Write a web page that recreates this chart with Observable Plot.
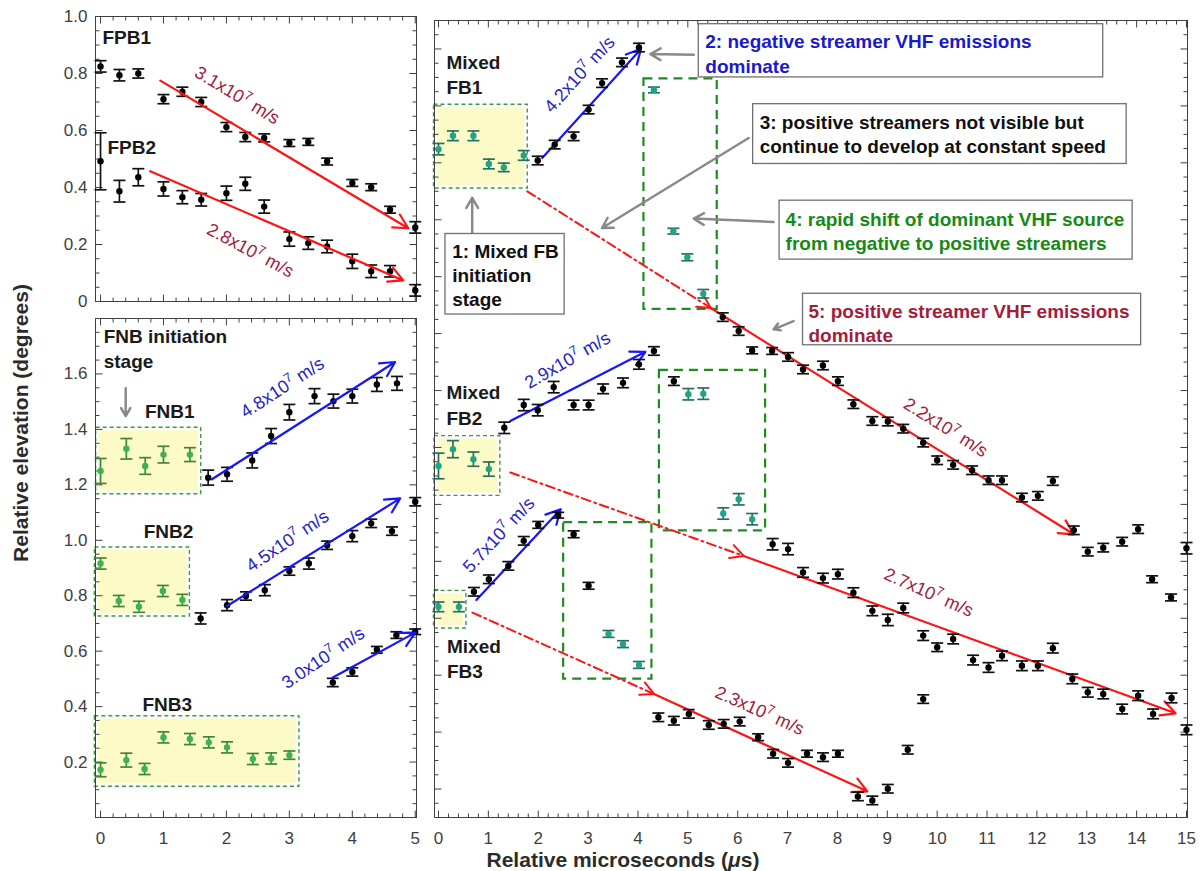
<!DOCTYPE html>
<html><head><meta charset="utf-8">
<script src="https://cdn.jsdelivr.net/npm/d3@7"></script>
<script src="https://cdn.jsdelivr.net/npm/@observablehq/plot@0.6"></script>
<style>
html,body{margin:0;padding:0;background:#fff;}
#wrap{position:relative;width:1202px;height:871px;overflow:hidden;font-family:"Liberation Sans",Arial,Helvetica,sans-serif;color:#333;}
#wrap svg{position:absolute;overflow:visible;}
.lab{position:absolute;font-weight:bold;font-size:21px;line-height:22px;white-space:nowrap;color:#2b2b2b;transform:translate(-50%,-50%);}
</style></head><body>
<div id="wrap"></div>
<script>
// ---------- data: [time (µs), relative elevation (deg), error half-width (deg)] ----------
// upper-left panel: fast positive breakdown
const fpb1 = [[0,0.825,0.02],[0.3,0.794,0.02],[0.6,0.80,0.016],[1.0,0.71,0.016],[1.3,0.736,0.016],[1.6,0.70,0.016],[2.0,0.612,0.016],[2.3,0.577,0.016],[2.6,0.574,0.014],[3.0,0.556,0.012],[3.3,0.56,0.012],[3.6,0.491,0.012],[4.0,0.416,0.012],[4.3,0.401,0.012],[4.6,0.322,0.012],[5.0,0.26,0.02]];
const fpb2 = [[0,0.492,0.1],[0.3,0.387,0.038],[0.6,0.436,0.03],[1.0,0.395,0.025],[1.3,0.366,0.023],[1.6,0.357,0.022],[2.0,0.38,0.025],[2.3,0.413,0.023],[2.6,0.333,0.023],[3.0,0.219,0.025],[3.3,0.205,0.022],[3.6,0.193,0.022],[4.0,0.141,0.025],[4.3,0.106,0.022],[4.6,0.106,0.02],[5.0,0.039,0.02]];
// lower-left panel: fast negative breakdown
const fnb1Init = [[0,1.25,0.045],[0.41,1.33,0.037],[0.71,1.268,0.03],[1.0,1.309,0.03],[1.42,1.309,0.025]];
const fnb1 = [[1.71,1.226,0.027],[2.01,1.238,0.025],[2.41,1.288,0.027],[2.71,1.376,0.027],[3.0,1.462,0.028],[3.4,1.52,0.027],[3.7,1.502,0.025],[4.0,1.52,0.025],[4.39,1.562,0.025],[4.71,1.566,0.025]];
const fnb2Init = [[0,0.916,0.02],[0.29,0.781,0.02],[0.61,0.76,0.02],[0.99,0.817,0.02],[1.3,0.785,0.02]];
const fnb2 = [[1.59,0.718,0.02],[2.01,0.766,0.02],[2.31,0.799,0.015],[2.61,0.82,0.02],[3.0,0.889,0.015],[3.31,0.916,0.02],[3.6,0.982,0.015],[4.0,1.015,0.02],[4.3,1.061,0.015],[4.63,1.033,0.015],[5.0,1.139,0.015]];
const fnb3Init = [[0,0.172,0.025],[0.41,0.207,0.025],[0.70,0.175,0.02],[1.0,0.289,0.02],[1.42,0.283,0.02],[1.72,0.271,0.02],[2.01,0.253,0.02],[2.42,0.211,0.02],[2.71,0.213,0.02],[3.0,0.225,0.015]];
const fnb3 = [[3.69,0.487,0.015],[4.0,0.525,0.015],[4.39,0.605,0.012],[4.7,0.658,0.012],[5.0,0.67,0.01]];
// right panel: mixed fast breakdown (vertical offset per flash)
const fb1Init = [[0,2.248,0.02],[0.29,2.295,0.017],[0.7,2.295,0.017],[1.01,2.196,0.017],[1.31,2.184,0.015],[1.71,2.226,0.017]];
const fb1Black = [[1.99,2.208,0.015],[2.33,2.264,0.015],[2.71,2.293,0.015],[3.01,2.387,0.015],[3.28,2.48,0.015],[3.68,2.553,0.015],[4.02,2.605,0.015],
  [5.7,1.658,0.015],[6.02,1.609,0.015],[6.29,1.541,0.012],[6.69,1.539,0.012],[7.01,1.518,0.015],[7.31,1.474,0.015],[7.71,1.488,0.015],[8.01,1.433,0.015],[8.32,1.352,0.015],[8.70,1.293,0.015],[9.01,1.291,0.015],[9.32,1.266,0.015],[9.72,1.217,0.015],[10.0,1.155,0.015],[10.32,1.139,0.015],[10.7,1.12,0.015],[11.03,1.085,0.015],[11.3,1.085,0.015],[11.7,1.024,0.015],[12.02,1.03,0.015],[12.32,1.082,0.015],[12.74,0.909,0.015],[13.02,0.834,0.015],[13.33,0.848,0.015],[13.71,0.869,0.015],[14.03,0.913,0.015],[14.31,0.737,0.012],[14.69,0.673,0.012],[15.0,0.846,0.02]];
const fb1Shift = [[4.32,2.456,0.01],[4.71,1.96,0.01],[4.99,1.868,0.012],[5.31,1.74,0.015]];
const fb2Init = [[0,1.135,0.045],[0.29,1.194,0.03],[0.70,1.159,0.025],[1.01,1.124,0.025]];
const fb2Black = [[1.32,1.269,0.02],[1.71,1.349,0.02],[1.99,1.331,0.02],[2.31,1.412,0.02],[2.71,1.349,0.017],[3.01,1.349,0.017],[3.30,1.406,0.017],[3.70,1.427,0.017],[4.02,1.492,0.017],[4.32,1.539,0.015],[4.72,1.433,0.015],
  [6.70,0.86,0.02],[7.01,0.843,0.02],[7.31,0.761,0.017],[7.71,0.741,0.017],[8.01,0.755,0.017],[8.32,0.69,0.017],[8.70,0.626,0.017],[9.01,0.594,0.02],[9.32,0.636,0.017],[9.72,0.539,0.017],[10.0,0.498,0.015],[10.32,0.527,0.017],[10.72,0.453,0.017],[11.03,0.427,0.017],[11.3,0.468,0.017],[11.7,0.433,0.017],[12.02,0.433,0.017],[12.32,0.495,0.017],[12.71,0.387,0.017],[13.02,0.34,0.017],[13.33,0.334,0.017],[13.71,0.281,0.017],[14.03,0.328,0.017],[14.33,0.264,0.017],[14.70,0.32,0.017],[15.0,0.208,0.017]];
const fb2Shift = [[5.01,1.387,0.02],[5.31,1.389,0.02],[5.71,0.968,0.02],[6.02,1.018,0.02],[6.29,0.948,0.02]];
const fb3Init = [[0,0.64,0.017],[0.41,0.64,0.017]];
const fb3Black = [[0.71,0.693,0.015],[1.01,0.737,0.015],[1.40,0.784,0.015],[1.71,0.872,0.015],[2.0,0.928,0.012],[2.40,0.962,0.01],[2.71,0.895,0.012],[3.01,0.714,0.012],
  [4.41,0.252,0.015],[4.72,0.24,0.015],[5.02,0.264,0.015],[5.42,0.225,0.015],[5.72,0.229,0.015],[6.04,0.237,0.015],[6.41,0.182,0.012],[6.71,0.124,0.015],[7.01,0.092,0.015],[7.39,0.124,0.012],[7.71,0.112,0.015],[8.01,0.124,0.012],[8.41,-0.026,0.015],[8.70,-0.04,0.015],[9.01,0.001,0.015],[9.41,0.138,0.015],[9.72,0.316,0.015]];
const fb3Shift = [[3.41,0.545,0.012],[3.70,0.509,0.012],[4.02,0.436,0.012]];

// ---------- tick values and labels ----------
const tlYTicks = [0,0.2,0.4,0.6,0.8,1.0];
const tlYLabels = ["0","0.2","0.4","0.6","0.8","1.0"];
const blYTicks = [0.2,0.4,0.6,0.8,1.0,1.2,1.4,1.6];
const blYLabels = ["0.2","0.4","0.6","0.8","1.0","1.2","1.4","1.6"];
const leftXTicks = [0,1,2,3,4,5];
const rightXTicks = [0,1,2,3,4,5,6,7,8,9,10,11,12,13,14,15];

// ---------- fitted-speed arrows ----------
const fpbArrows = [{x1:0.95,y1:0.775,x2:4.89,y2:0.257},{x1:0.79,y1:0.457,x2:4.81,y2:0.074}];
const fnbArrows = [{x1:1.77,y1:1.22,x2:4.68,y2:1.643},{x1:2.01,y1:0.763,x2:4.76,y2:1.151},{x1:3.69,y1:0.505,x2:5.0,y2:0.667}];
const fbNegArrows = [{x1:2.08,y1:2.217,x2:4.06,y2:2.60},{x1:1.44,y1:1.293,x2:4.15,y2:1.536},{x1:0.76,y1:0.664,x2:2.45,y2:0.983}];
const fbPosHidden = [{x1:1.78,y1:2.10,x2:5.46,y2:1.69},{x1:1.44,y1:1.112,x2:6.12,y2:0.819},{x1:0.68,y1:0.62,x2:4.32,y2:0.334}];
const fbPosVisible = [{x1:5.46,y1:1.69,x2:12.74,y2:0.895},{x1:6.12,y1:0.819,x2:14.78,y2:0.266},{x1:4.32,y1:0.334,x2:8.6,y2:-0.008}];

// ---------- annotations ----------
const tlSpeeds = [{x:2.17,y:0.723,text:"3.1x10⁷ m/s",rot:31},{x:2.38,y:0.179,text:"2.8x10⁷ m/s",rot:28}];
const blSpeeds = [{x:2.89,y:1.55,text:"4.8x10⁷ m/s",rot:-33},{x:2.97,y:0.997,text:"4.5x10⁷ m/s",rot:-34},{x:3.54,y:0.575,text:"3.0x10⁷ m/s",rot:-34}];
const rNegSpeeds = [{x:2.83,y:2.51,text:"4.2x10⁷ m/s",rot:-48},{x:2.59,y:1.506,text:"2.9x10⁷ m/s",rot:-30},{x:1.21,y:0.892,text:"5.7x10⁷ m/s",rot:-47}];
const rPosSpeeds = [{x:10.17,y:1.27,text:"2.2x10⁷ m/s",rot:32},{x:9.83,y:0.69,text:"2.7x10⁷ m/s",rot:24},{x:6.44,y:0.275,text:"2.3x10⁷ m/s",rot:24}];
const tlLabels = [{x:0.03,y:0.93,text:"FPB1"},{x:0.11,y:0.545,text:"FPB2"}];
const blLabels = [{x:1.10,y:1.468,text:"FNB1"},{x:1.08,y:1.036,text:"FNB2"},{x:1.06,y:0.413,text:"FNB3"}];
const blStage = [{x:0.05,y:1.695,text:"FNB initiation\nstage"}];
const blInitBoxes = [{x1:-0.07,x2:1.6,y1:1.166,y2:1.406},{x1:-0.09,x2:1.42,y1:0.725,y2:0.974},{x1:-0.09,x2:3.16,y1:0.111,y2:0.365}];
const blPointer = [{x1:0.4,y1:1.548,x2:0.4,y2:1.448}];
const rInitBoxes = [{x1:-0.09,x2:1.79,y1:2.11,y2:2.404},{x1:-0.08,x2:1.24,y1:1.03,y2:1.24},{x1:-0.09,x2:0.56,y1:0.564,y2:0.696}];
const rShiftBoxes = [{x1:4.12,x2:5.59,y1:1.685,y2:2.495},{x1:4.43,x2:6.56,y1:0.907,y2:1.471},{x1:2.51,x2:4.28,y1:0.386,y2:0.936}];
const rMixed = [{x:0.16,y:2.515,text:"Mixed\nFB1"},{x:0.16,y:1.355,text:"Mixed\nFB2"},{x:0.17,y:0.463,text:"Mixed\nFB3"}];
const rNotes = [
  {x1:0.14,x2:2.53,y1:1.667,y2:1.95,tx:0.275,ty:1.809,text:"1: Mixed FB\ninitiation\nstage",color:"#111111"},
  {x1:5.22,x2:13.33,y1:2.5,y2:2.687,tx:5.35,ty:2.587,text:"2: negative streamer VHF emissions\ndominate",color:"#1a1acc"},
  {x1:6.31,x2:13.8,y1:2.196,y2:2.406,tx:6.44,ty:2.305,text:"3: positive streamers not visible but\ncontinue to develop at constant speed",color:"#111111"},
  {x1:6.84,x2:13.92,y1:1.86,y2:2.067,tx:6.96,ty:1.964,text:"4: rapid shift of dominant VHF source\nfrom negative to positive streamers",color:"#168a16"},
  {x1:7.31,x2:14.09,y1:1.559,y2:1.74,tx:7.42,ty:1.64,text:"5: positive streamer VHF emissions\ndominate",color:"#a31d3a"}];
const rPointers = [{x1:0.676,y1:1.954,x2:0.676,y2:2.077},{x1:5.12,y1:2.58,x2:4.25,y2:2.582},{x1:6.22,y1:2.287,x2:3.28,y2:1.971},{x1:6.72,y1:1.992,x2:5.12,y2:2.004},{x1:7.12,y1:1.644,x2:6.72,y2:1.615}];

// ---------- styles ----------
const FONT = '"Liberation Sans", Arial, Helvetica, sans-serif';
const RED = "#ff1414", DRED = "#a3203d", BLUE = "#1515ff", DBLUE = "#2424c8", GRAY = "#8a8a8a";
const YELLOW = "#fcfac6", LGREEN = "#3a9d3a", DGREEN = "#1e8c1e";
const AX = "#404040";
const BOLD = 19, TICKFS = 17;

const capSym = {draw(ctx, size){ const r = Math.sqrt(size/Math.PI); ctx.moveTo(-r,0); ctx.lineTo(r,0); }};
const tk = (dx,dy) => ({draw(ctx, size){ const r = Math.sqrt(size/Math.PI); ctx.moveTo(0,0); ctx.lineTo(dx*r,dy*r); }});

function series(data, fill, bar, cw = 6) {
  const o = {stroke: bar, strokeWidth: 1.7};
  return [
    Plot.ruleX(data, {x: d => d[0], y1: d => d[1]-d[2], y2: d => d[1]+d[2], ...o}),
    Plot.dot(data, {x: d => d[0], y: d => d[1]-d[2], symbol: capSym, r: cw, fill: "none", ...o}),
    Plot.dot(data, {x: d => d[0], y: d => d[1]+d[2], symbol: capSym, r: cw, fill: "none", ...o}),
    Plot.dot(data, {x: d => d[0], y: d => d[1], r: 3.2, fill, stroke: "none"})
  ];
}
const black = d => series(d, "#000", "#111");
const greenL = d => series(d, "#3cb44b", "#3f853f");
const teal = d => series(d, "#1fa585", "#2b6d60");

function frameTicks(xd, yd, xStep, yStep) {
  const o = {stroke: AX, fill: "none", strokeWidth: 1};
  const xs = d3.range(Math.ceil(xd[0]/xStep)*xStep, xd[1]+1e-9, xStep).map(v => +v.toFixed(4));
  const ys = d3.range(Math.ceil(yd[0]/yStep-1e-9)*yStep, yd[1]+1e-9, yStep).map(v => +v.toFixed(4));
  const isMajX = v => Math.abs(v - Math.round(v)) < 1e-6;
  const isMajY = v => Math.abs(v/0.2 - Math.round(v/0.2)) < 1e-6;
  const m = [];
  for (const [vals, len] of [[xs.filter(isMajX), 7], [xs.filter(v => !isMajX(v)), 4]]) {
    m.push(Plot.dot(vals, {x: d => d, y: () => yd[0], symbol: tk(0,-1), r: len, ...o}));
    m.push(Plot.dot(vals, {x: d => d, y: () => yd[1], symbol: tk(0,1), r: len, ...o}));
  }
  for (const [vals, len] of [[ys.filter(isMajY), 7], [ys.filter(v => !isMajY(v)), 4]]) {
    m.push(Plot.dot(vals, {x: () => xd[0], y: d => d, symbol: tk(1,0), r: len, ...o}));
    m.push(Plot.dot(vals, {x: () => xd[1], y: d => d, symbol: tk(-1,0), r: len, ...o}));
  }
  return m;
}
const speedText = (data, color) => Plot.text(data, {x: "x", y: "y", text: "text", rotate: "rot", fill: color, fontSize: 18, textAnchor: "middle"});
const boldText = (data, anchor, lh = 1.3) => Plot.text(data, {x: "x", y: "y", text: "text", fill: "#1a1a1a", fontSize: BOLD, fontWeight: "bold", textAnchor: anchor, lineHeight: lh});
const baseStyle = {fontFamily: FONT, fontSize: TICKFS + "px", color: AX, background: "transparent", overflow: "visible"};

const LX = [-0.08, 5.02], RX = [-0.08, 15.02];

// ---------- upper-left panel ----------
const pTL = Plot.plot({
  width: 420, height: 310, marginLeft: 95, marginRight: 4, marginTop: 16, marginBottom: 9,
  x: {domain: LX, axis: null}, y: {domain: [0, 1]}, style: baseStyle,
  marks: [
    Plot.frame({stroke: AX}),
    ...frameTicks(LX, [0, 1], 0.2, 0.05),
    Plot.axisY(tlYTicks, {tickSize: 0, tickPadding: 8, fontSize: TICKFS, label: null, tickFormat: d => tlYLabels[tlYTicks.indexOf(d)]}),
    ...black(fpb1), ...black(fpb2),
    Plot.arrow(fpbArrows, {x1: "x1", y1: "y1", x2: "x2", y2: "y2", stroke: RED, strokeWidth: 2.2, headLength: 11, headAngle: 55}),
    speedText(tlSpeeds, DRED),
    boldText(tlLabels, "start")
  ]
});

// ---------- lower-left panel ----------
const pBL = Plot.plot({
  width: 420, height: 561, marginLeft: 95, marginRight: 4, marginTop: 8, marginBottom: 54,
  x: {domain: LX}, y: {domain: [0, 1.8]}, style: baseStyle,
  marks: [
    Plot.rect(blInitBoxes, {x1: "x1", x2: "x2", y1: "y1", y2: "y2", fill: YELLOW, inset: 3}),
    Plot.rect(blInitBoxes, {x1: "x1", x2: "x2", y1: "y1", y2: "y2", fill: "none", stroke: LGREEN, strokeWidth: 1.4, strokeDasharray: "4,3"}),
    Plot.frame({stroke: AX}),
    ...frameTicks(LX, [0, 1.8], 0.2, 0.05),
    Plot.axisY(blYTicks, {tickSize: 0, tickPadding: 8, fontSize: TICKFS, label: null, tickFormat: d => blYLabels[blYTicks.indexOf(d)]}),
    Plot.axisX(leftXTicks, {tickSize: 0, tickPadding: 14, fontSize: TICKFS, label: null, tickFormat: d => String(d)}),
    ...greenL(fnb1Init), ...greenL(fnb2Init), ...greenL(fnb3Init),
    ...black(fnb1), ...black(fnb2), ...black(fnb3),
    Plot.arrow(fnbArrows, {x1: "x1", y1: "y1", x2: "x2", y2: "y2", stroke: BLUE, strokeWidth: 2.2, headLength: 11, headAngle: 55}),
    Plot.arrow(blPointer, {x1: "x1", y1: "y1", x2: "x2", y2: "y2", stroke: GRAY, strokeWidth: 2.5, headLength: 7, headAngle: 60}),
    speedText(blSpeeds, DBLUE),
    boldText(blLabels, "middle"),
    boldText(blStage, "start")
  ]
});

// ---------- right panel ----------
const pR = Plot.plot({
  width: 782, height: 871, marginLeft: 14, marginRight: 15, marginTop: 20, marginBottom: 54,
  x: {domain: RX}, y: {domain: [-0.1, 2.7], axis: null}, style: baseStyle,
  marks: [
    Plot.rect(rInitBoxes, {x1: "x1", x2: "x2", y1: "y1", y2: "y2", fill: YELLOW, inset: 3}),
    Plot.rect(rInitBoxes, {x1: "x1", x2: "x2", y1: "y1", y2: "y2", fill: "none", stroke: LGREEN, strokeWidth: 1.4, strokeDasharray: "4,3"}),
    Plot.rect(rShiftBoxes, {x1: "x1", x2: "x2", y1: "y1", y2: "y2", fill: "none", stroke: DGREEN, strokeWidth: 2.2, strokeDasharray: "9,6"}),
    Plot.frame({stroke: AX}),
    ...frameTicks(RX, [-0.1, 2.7], 0.2, 0.05),
    Plot.axisX(rightXTicks, {tickSize: 0, tickPadding: 14, fontSize: TICKFS, label: null, tickFormat: d => String(d)}),
    Plot.arrow(fbPosHidden, {x1: "x1", y1: "y1", x2: "x2", y2: "y2", stroke: RED, strokeWidth: 2, strokeDasharray: "9,4,2,4", headLength: 11, headAngle: 55}),
    Plot.arrow(fbPosVisible, {x1: "x1", y1: "y1", x2: "x2", y2: "y2", stroke: RED, strokeWidth: 2.2, headLength: 11, headAngle: 55}),
    Plot.arrow(fbNegArrows, {x1: "x1", y1: "y1", x2: "x2", y2: "y2", stroke: BLUE, strokeWidth: 2.2, headLength: 11, headAngle: 55}),
    ...teal(fb1Init), ...teal(fb2Init), ...teal(fb3Init),
    ...teal(fb1Shift), ...teal(fb2Shift), ...teal(fb3Shift),
    ...black(fb1Black), ...black(fb2Black), ...black(fb3Black),
    Plot.arrow(rPointers, {x1: "x1", y1: "y1", x2: "x2", y2: "y2", stroke: GRAY, strokeWidth: 2.5, headLength: 7, headAngle: 60}),
    Plot.rect(rNotes, {x1: "x1", x2: "x2", y1: "y1", y2: "y2", fill: "#fff", stroke: "#707070", strokeWidth: 1.3}),
    Plot.text(rNotes, {x: "tx", y: "ty", text: "text", fill: "color", fontSize: BOLD, fontWeight: "bold", textAnchor: "start", lineHeight: 1.28}),
    speedText(rNegSpeeds, DBLUE),
    speedText(rPosSpeeds, DRED),
    boldText(rMixed, "start", 1.36)
  ]
});

// ---------- assemble ----------
const wrap = document.getElementById("wrap");
const SVGNS = "http://www.w3.org/2000/svg";
for (const [svg, left, top] of [[pTL, 0, 0], [pBL, 0, 310], [pR, 420, 0]]) {
  svg.style.left = left + "px"; svg.style.top = top + "px";
  svg.style.maxWidth = "none";
  wrap.appendChild(svg);
  // superscript exponents
  svg.querySelectorAll("text").forEach(t => {
    const s = t.textContent, i = s.indexOf("⁷");
    if (i < 0 || t.querySelector("tspan")) return;
    t.textContent = "";
    t.appendChild(document.createTextNode(s.slice(0, i)));
    const sup = document.createElementNS(SVGNS, "tspan");
    sup.setAttribute("dy", "-7"); sup.setAttribute("font-size", "13"); sup.textContent = "7";
    t.appendChild(sup);
    const rest = document.createElementNS(SVGNS, "tspan");
    rest.setAttribute("dy", "7"); rest.textContent = s.slice(i + 1);
    t.appendChild(rest);
  });
  // dash-dot arrows: keep the heads solid
  svg.querySelectorAll('g[stroke-dasharray="9,4,2,4"] path').forEach(p => {
    const d = p.getAttribute("d"), k = d.indexOf("M", 1);
    if (k < 0) return;
    p.setAttribute("d", d.slice(0, k));
    const h = p.cloneNode();
    h.setAttribute("d", d.slice(k));
    h.setAttribute("stroke-dasharray", "none");
    p.parentNode.appendChild(h);
  });
}
const yl = document.createElement("div");
yl.className = "lab"; yl.textContent = "Relative elevation (degrees)";
yl.style.left = "21px"; yl.style.top = "423px";
yl.style.transform = "translate(-50%,-50%) rotate(-90deg)";
wrap.appendChild(yl);
const xl = document.createElement("div");
xl.className = "lab"; xl.innerHTML = "Relative microseconds (<i>μ</i>s)";
xl.style.left = "623px"; xl.style.top = "860px";
wrap.appendChild(xl);
</script></body></html>
